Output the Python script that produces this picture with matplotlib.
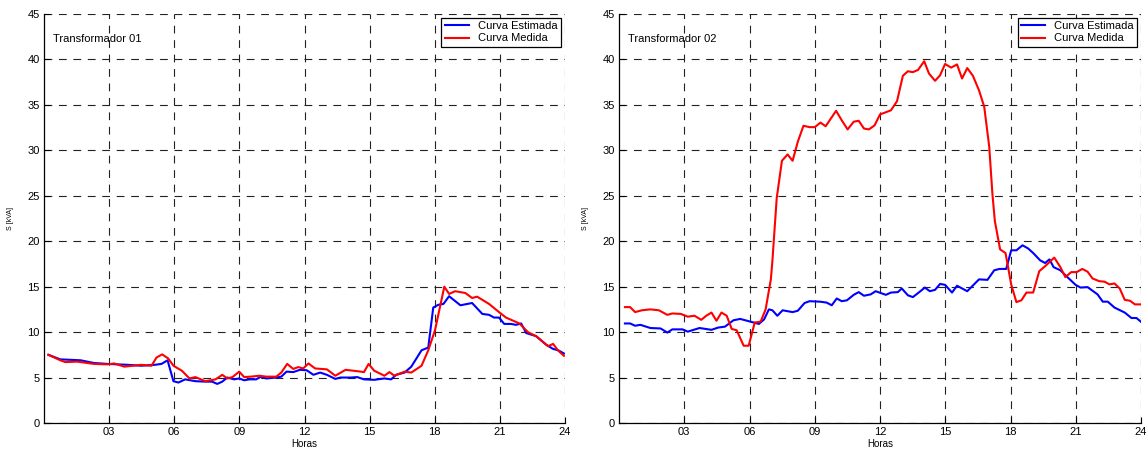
import numpy as np
import matplotlib
matplotlib.use("Agg")
import matplotlib.pyplot as plt

plt.rcParams['font.family'] = ['Liberation Sans', 'DejaVu Sans']

# Transformador 01
t1_est_h = [0.2, 0.75, 1.68, 2.3, 2.92, 3.86, 4.48, 5.1, 5.41, 5.69, 5.96, 6.19, 6.5, 6.97, 7.43,
            7.74, 7.98, 8.21, 8.44, 8.76, 8.99, 9.22, 9.46, 9.77, 10.0, 10.23, 10.7, 10.93, 11.17,
            11.48, 11.79, 12.1, 12.41, 12.72, 13.03, 13.42, 13.65, 14.12, 14.43, 14.74, 15.21,
            15.68, 15.99, 16.22, 16.61, 16.92, 17.39, 17.7, 17.93, 18.16, 18.4, 18.66, 19.18,
            19.72, 20.19, 20.5, 20.73, 20.96, 21.2, 21.51, 21.74, 21.98, 22.21, 22.67, 23.14,
            23.45, 23.69, 23.95]
t1_est = [7.5, 7.0, 6.9, 6.6, 6.5, 6.4, 6.3, 6.4, 6.5, 6.9, 4.6, 4.45, 4.8, 4.6, 4.55,
          4.55, 4.3, 4.55, 5.0, 4.8, 4.9, 4.7, 4.8, 4.8, 5.1, 4.9, 5.0, 5.1, 5.65,
          5.6, 5.85, 5.8, 5.3, 5.55, 5.3, 4.85, 5.0, 5.0, 5.05, 4.8, 4.75,
          4.9, 4.8, 5.3, 5.55, 6.2, 8.0, 8.3, 12.7, 13.0, 13.1, 13.95, 12.95,
          13.2, 12.0, 11.9, 11.6, 11.6, 10.9, 10.9, 10.8, 10.95, 9.9, 9.55, 8.6,
          8.15, 8.0, 7.65]

t1_med_h = [0.2, 0.75, 0.98, 1.52, 1.84, 2.3, 2.92, 3.23, 3.7, 4.09, 4.48, 4.95, 5.18, 5.44,
            5.72, 5.96, 6.35, 6.7, 6.97, 7.43, 7.9, 8.21, 8.44, 8.68, 8.99, 9.22, 9.53, 9.92,
            10.23, 10.7, 10.93, 11.2, 11.48, 11.71, 11.94, 12.18, 12.49, 13.03, 13.42, 13.89,
            14.43, 14.74, 14.95, 15.21, 15.68, 15.91, 16.14, 16.61, 16.92, 17.39, 17.7, 18.01,
            18.44, 18.66, 18.94, 19.41, 19.72, 19.95, 20.5, 20.96, 21.28, 21.9, 22.29, 22.67,
            23.22, 23.45, 23.69, 23.95]
t1_med = [7.5, 6.9, 6.7, 6.75, 6.65, 6.5, 6.45, 6.55, 6.2, 6.3, 6.4, 6.3, 7.2, 7.55,
          7.1, 6.3, 5.75, 4.9, 5.05, 4.6, 4.8, 5.3, 4.9, 5.05, 5.65, 5.05, 5.1, 5.2,
          5.1, 5.1, 5.55, 6.5, 5.95, 6.15, 6.0, 6.55, 6.0, 5.9, 5.2, 5.85,
          5.7, 5.6, 6.5, 5.75, 5.2, 5.6, 5.2, 5.65, 5.55, 6.3, 8.0, 10.2,
          15.0, 14.2, 14.5, 14.3, 13.75, 13.9, 13.1, 12.2, 11.6, 10.95, 10.0, 9.55,
          8.45, 8.7, 7.95, 7.4]

# Transformador 02
t2_est_h = [0.27, 0.51, 0.74, 0.98, 1.44, 1.91, 2.22, 2.45, 2.92, 3.16, 3.7, 4.25, 4.56, 4.87,
            5.26, 5.57, 6.04, 6.43, 6.67, 6.89, 7.05, 7.28, 7.52, 7.98, 8.22, 8.53, 8.76, 9.23,
            9.54, 9.78, 10.01, 10.24, 10.48, 10.79, 11.02, 11.26, 11.57, 11.8, 12.03, 12.27,
            12.5, 12.82, 13.0, 13.28, 13.51, 13.83, 14.06, 14.29, 14.53, 14.76, 14.99, 15.31,
            15.54, 16.01, 16.55, 16.94, 17.25, 17.49, 17.8, 18.03, 18.27, 18.55, 18.81, 19.04,
            19.36, 19.59, 19.79, 19.98, 20.29, 20.68, 20.99, 21.22, 21.54, 22.0, 22.24, 22.47,
            22.78, 23.25, 23.56, 23.79, 23.99]
t2_est = [10.95, 10.95, 10.7, 10.8, 10.45, 10.4, 9.95, 10.3, 10.3, 10.05, 10.45, 10.25, 10.5, 10.6,
          11.3, 11.45, 11.15, 10.9, 11.4, 12.5, 12.4, 11.8, 12.4, 12.2, 12.35, 13.2, 13.4, 13.35,
          13.25, 12.95, 13.7, 13.4, 13.5, 14.1, 14.4, 14.0, 14.15, 14.5, 14.3, 14.1,
          14.35, 14.4, 14.8, 14.05, 13.85, 14.45, 14.9, 14.5, 14.65, 15.3, 15.2, 14.35,
          15.1, 14.5, 15.8, 15.75, 16.8, 16.95, 16.95, 19.0, 19.0, 19.55, 19.2, 18.7,
          17.9, 17.6, 18.0, 17.15, 16.8, 15.9, 15.2, 14.9, 14.95, 14.15, 13.35, 13.35,
          12.7, 12.15, 11.55, 11.55, 11.15]

t2_med_h = [0.27, 0.51, 0.74, 1.05, 1.44, 1.83, 2.22, 2.45, 2.84, 3.16, 3.47, 3.78, 4.01, 4.25,
            4.48, 4.71, 4.95, 5.18, 5.41, 5.73, 5.96, 6.24, 6.51, 6.74, 6.98, 7.05, 7.25, 7.49,
            7.75, 7.98, 8.22, 8.48, 8.76, 9.0, 9.26, 9.5, 9.98, 10.24, 10.51, 10.79, 11.02,
            11.26, 11.49, 11.75, 12.0, 12.5, 12.78, 13.05, 13.28, 13.51, 13.75, 14.03, 14.25,
            14.53, 14.76, 14.99, 15.27, 15.54, 15.77, 16.01, 16.27, 16.55, 16.79, 17.02, 17.17,
            17.28, 17.52, 17.77, 18.03, 18.27, 18.5, 18.73, 19.04, 19.32, 19.59, 20.01, 20.29,
            20.52, 20.79, 21.04, 21.3, 21.54, 21.77, 22.08, 22.32, 22.55, 22.78, 23.02, 23.25,
            23.49, 23.72, 23.99]
t2_med = [12.75, 12.75, 12.2, 12.4, 12.5, 12.4, 11.9, 12.05, 12.0, 11.7, 11.8, 11.35, 11.8, 12.15,
          11.25, 12.15, 11.8, 10.35, 10.2, 8.5, 8.5, 11.05, 11.15, 12.5, 15.8, 17.8, 24.75, 28.85,
          29.55, 28.85, 30.95, 32.7, 32.55, 32.55, 33.05, 32.65, 34.35, 33.3, 32.3, 33.15, 33.25,
          32.4, 32.3, 32.75, 33.95, 34.4, 35.4, 38.2, 38.7, 38.6, 38.85, 39.8, 38.45,
          37.65, 38.25, 39.5, 39.1, 39.45, 37.9, 39.05, 38.2, 36.6, 34.8, 30.4, 25.1,
          22.2, 19.1, 18.7, 15.25, 13.3, 13.5, 14.35, 14.35, 16.7, 17.25, 18.2, 17.15,
          16.05, 16.6, 16.6, 16.95, 16.65, 15.9, 15.6, 15.55, 15.25, 15.35, 14.8, 13.55,
          13.45, 13.05, 13.05]

xticks = [3, 6, 9, 12, 15, 18, 21, 24]
xticklabels = ['03', '06', '09', '12', '15', '18', '21', '24']
yticks = [0, 5, 10, 15, 20, 25, 30, 35, 40, 45]

fig = plt.figure(figsize=(11.47, 4.54), dpi=100)
ax1 = fig.add_axes([0.0384, 0.0683, 0.4542, 0.9009])
ax2 = fig.add_axes([0.5397, 0.0683, 0.4551, 0.9009])

panels = [
    (ax1, t1_est_h, t1_est, t1_med_h, t1_med, 'Transformador 01'),
    (ax2, t2_est_h, t2_est, t2_med_h, t2_med, 'Transformador 02'),
]

for ax, eh, ev, mh, mv, title in panels:
    ax.plot(eh, ev, color='#0000ff', lw=1.5, label='Curva Estimada')
    ax.plot(mh, mv, color='#ff0000', lw=1.5, label='Curva Medida')
    ax.set_xlim(0, 24)
    ax.set_ylim(0, 45)
    ax.set_xticks(xticks)
    ax.set_xticklabels(xticklabels)
    ax.set_yticks(yticks)
    ax.tick_params(direction='in', length=4, width=0.8, labelsize=8, pad=3)
    # matlab-style dashed grid
    ax.grid(True, color='#222222', linestyle=(0, (7, 6)), linewidth=0.8)
    ax.set_axisbelow(True)
    for s in ['top', 'right']:
        ax.spines[s].set_visible(False)
    for s in ['left', 'bottom']:
        ax.spines[s].set_linewidth(0.9)
    ax.set_xlabel('Horas', fontsize=7, labelpad=1)
    ax.set_ylabel('S [kVA]', fontsize=5, labelpad=10)
    ax.text(0.017, 0.939, title, transform=ax.transAxes, fontsize=8, va='center', ha='left')
    leg = ax.legend(loc='upper right', fontsize=8, fancybox=False, framealpha=1,
                    edgecolor='black', borderpad=0.3, handlelength=2.2, labelspacing=0.2,
                    borderaxespad=0.35)
    leg.get_frame().set_linewidth(0.9)

fig.savefig('out.png', dpi=100)
